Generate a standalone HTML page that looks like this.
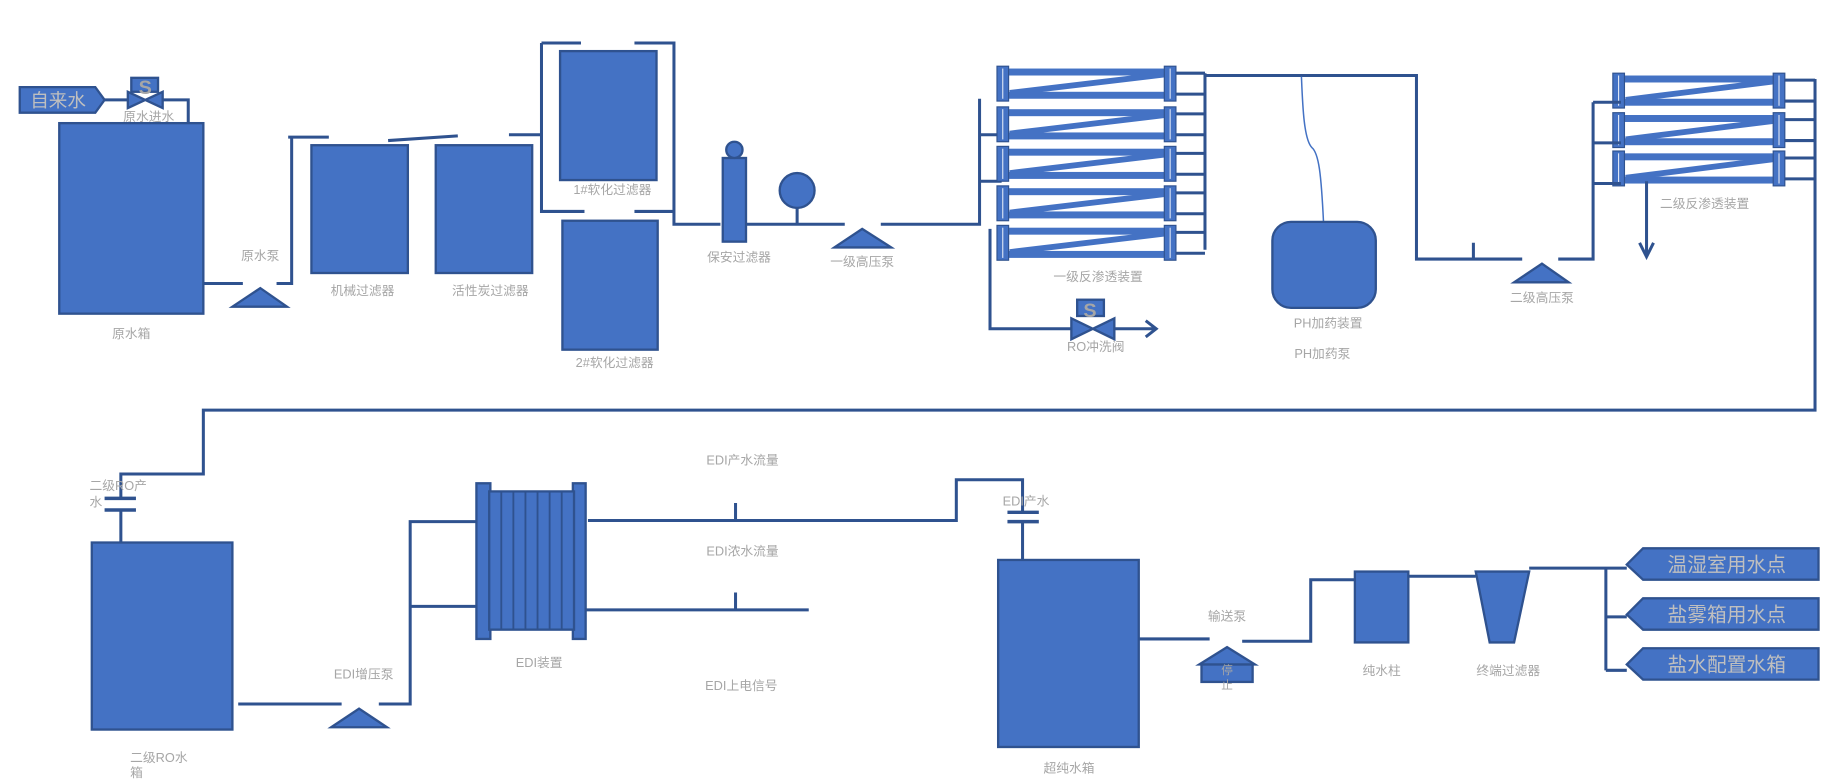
<!DOCTYPE html>
<html><head><meta charset="utf-8"><style>
html,body{margin:0;padding:0;background:#fff;}
svg{display:block;}
text{font-family:"Liberation Sans","Noto Sans CJK SC",sans-serif;fill:#A6A6A6;font-size:11px;text-anchor:middle;}
.p{stroke:#2F528F;stroke-width:2.6;fill:none;}
.b{fill:#4472C4;stroke:#2F528F;stroke-width:2;}
</style></head><body>
<svg id="svg" width="1822" height="783" viewBox="0 0 1568 674" preserveAspectRatio="none">
<g>
<polygon class="b" points="17,75 82,75 90,86 82,97 17,97"/>
<text x="50" y="92" style="font-size:16px;fill:#BFBFBF">自来水</text>
</g>
<path class="p" d="M90,86 H110 M140,86 H162 V106"/>
<g>
<polygon class="b" points="110,79 110,93 140,79 140,93"/>
<rect class="b" x="113" y="67" width="23" height="12"/>
<text x="125" y="81" style="font-size:17px;fill:#A6A6A6;font-weight:bold">S</text>
</g>
<text x="128" y="104">原水进水</text>
<rect class="b" x="51" y="106" width="124" height="164"/>
<text x="113" y="291">原水箱</text>
<path class="p" d="M175,244 H209 M238,244 H251 V118 M248,118 H283 M334,121 L394,117 M438,116 H466 M466,37 V182 H503 M466,37 H500 M546,37 H580 V193 H620 M546,182 H580"/>
<polygon class="b" points="200,264 224,248 247,264"/>
<text x="224" y="224">原水泵</text>
<rect class="b" x="268" y="125" width="83" height="110"/>
<text x="312" y="254">机械过滤器</text>
<rect class="b" x="375" y="125" width="83" height="110"/>
<text x="422" y="254">活性炭过滤器</text>
<rect class="b" x="482" y="44" width="83" height="111"/>
<text x="527" y="167">1#软化过滤器</text>
<rect class="b" x="484" y="190" width="82" height="111"/>
<text x="529" y="316">2#软化过滤器</text>
<g>
<rect class="b" x="622" y="136" width="20" height="72"/>
<ellipse class="b" cx="632" cy="129" rx="7" ry="7"/>
</g>
<text x="636" y="225">保安过滤器</text>
<ellipse class="b" cx="686" cy="164" rx="15" ry="15"/>
<path class="p" d="M642,193 H727 M686,179 V193 M758,193 H843 V85 M843,116 H862 M843,156 H862 M852,197 V283 H922 M959,283 H994 M986,276 L995,283 L986,290"/>
<polygon class="b" points="718,213 742,197 767,213"/>
<text x="742" y="229">一级高压泵</text>
<g id="ro1"></g>
<text x="945" y="242">一级反渗透装置</text>
<g>
<polygon class="b" points="922,274 922,292 959,274 959,292"/>
<rect class="b" x="927" y="258" width="23" height="14"/>
<text x="938" y="273" style="font-size:17px;fill:#A6A6A6;font-weight:bold">S</text>
</g>
<text x="943" y="302">RO冲洗阀</text>
<path class="p" d="M1037,65 H1219 V223 H1310 M1268,209 V223 M1341,223 H1371 V88"/>
<path d="M1139,191 C1137,150 1135,132 1129,127 C1122,120 1121,90 1120,66" stroke="#4472C4" stroke-width="1.3" fill="none"/>
<rect class="b" x="1095" y="191" width="89" height="74" rx="16"/>
<text x="1143" y="282">PH加药装置</text>
<text x="1138" y="308">PH加药泵</text>
<polygon class="b" points="1303,243 1327,227 1350,243"/>
<text x="1327" y="260">二级高压泵</text>
<g id="ro2"></g>
<path class="p" d="M1417,156 V220 M1411,209 L1417,221 L1423,209"/>
<text x="1467" y="179">二级反渗透装置</text>
<path class="p" d="M1562,68 V353 H175 V408 H104 V428 M104,439 V467"/>
<path d="M90,429 H117 M90,439 H117" stroke="#2F528F" stroke-width="3"/>
<text x="77" y="422" style="text-anchor:start">二级RO产</text>
<text x="77" y="436" style="text-anchor:start">水</text>
<rect class="b" x="79" y="467" width="121" height="161"/>
<text x="112" y="656" style="text-anchor:start">二级RO水</text>
<text x="112" y="669" style="text-anchor:start">箱</text>
<path class="p" d="M205,606 H294 M326,606 H353 V449 H410 M353,522 H410"/>
<polygon class="b" points="285,626 309,610 333,626"/>
<text x="313" y="584">EDI增压泵</text>
<g id="edi">
<rect class="b" x="410" y="416" width="12" height="134"/>
<rect class="b" x="493" y="416" width="11" height="134"/>
<rect class="b" x="421" y="423" width="73" height="119"/>
</g>
<text x="464" y="574">EDI装置</text>
<path class="p" d="M506,448 H823 V413 H880 V441 M880,449 V482 M633,433 V448 M503,525 H696 M633,510 V525"/>
<path d="M867,441 H894 M867,449 H894" stroke="#2F528F" stroke-width="3"/>
<text x="639" y="400">EDI产水流量</text>
<text x="639" y="478">EDI浓水流量</text>
<text x="638" y="594">EDI上电信号</text>
<text x="883" y="435">EDI产水</text>
<rect class="b" x="859" y="482" width="121" height="161"/>
<text x="920" y="665">超纯水箱</text>
<path class="p" d="M980,550 H1041 M1069,552 H1128 V499 H1166 M1212,496 H1270 M1316,489 H1382 V577 M1382,489 H1400 M1382,531 H1400 M1382,577 H1400"/>
<g>
<polygon class="b" points="1032,572 1056,557 1080,572"/>
<rect class="b" x="1034" y="572" width="44" height="15"/>
<text x="1056" y="580" style="font-size:10px;fill:#A6A6A6">停</text>
<text x="1056" y="593" style="font-size:10px;fill:#A6A6A6">止</text>
</g>
<text x="1056" y="534">输送泵</text>
<rect class="b" x="1166" y="492" width="46" height="61"/>
<text x="1189" y="581">纯水柱</text>
<polygon class="b" points="1270,492 1316,492 1303,553 1282,553"/>
<text x="1298" y="581">终端过滤器</text>
<g id="tags"></g>
<script>
var svg=document.getElementById('svg');var NS='http://www.w3.org/2000/svg';
function mk(p,t,a){var e=document.createElementNS(NS,t);for(var k in a)e.setAttribute(k,a[k]);p.appendChild(e);return e;}
function membrane(g,x0,x1,cy,mx){
  var m=mk(g,'g',{});
  
  
  mk(m,'rect',{x:x0+8,y:cy-10,width:x1-x0-20,height:20,fill:'none',stroke:'#4472C4','stroke-width':6});
  mk(m,'line',{x1:x0+12,y1:cy+8,x2:x1-14,y2:cy-8,stroke:'#4472C4','stroke-width':5});
  mk(m,'rect',{x:x0+1,y:cy-15,width:10,height:30,fill:'#4472C4',stroke:'#2F528F','stroke-width':1});
  mk(m,'rect',{x:x1-15,y:cy-15,width:10,height:30,fill:'#4472C4',stroke:'#2F528F','stroke-width':1});
  mk(m,'line',{x1:x0+6,y1:cy-13,x2:x0+6,y2:cy+13,stroke:'#fff','stroke-width':0.8});
  mk(m,'line',{x1:x1-10,y1:cy-13,x2:x1-10,y2:cy+13,stroke:'#fff','stroke-width':0.8});
  mk(m,'path',{d:'M'+(x1-5)+','+(cy-9)+' H'+mx+' M'+(x1-5)+','+(cy+9)+' H'+mx,stroke:'#2F528F','stroke-width':2.6,fill:'none'});
}
var ro1Rows=[72,107,141,175,209];
var ro2Rows=[78,112,145];
var g1=document.getElementById('ro1');
ro1Rows.forEach(function(c){membrane(g1,857,1017,c,1037);});
mk(g1,'path',{d:'M1037,63 V215',stroke:'#2F528F','stroke-width':2.6,fill:'none'});
var g2=document.getElementById('ro2');
ro2Rows.forEach(function(c){membrane(g2,1387,1541,c,1562);});
mk(g2,'path',{d:'M1371,88 H1395 M1371,123 H1395 M1371,158 H1395',stroke:'#2F528F','stroke-width':2.6,fill:'none'});
var edi=document.getElementById('edi');
for(var i=1;i<7;i++){var l=mk(edi,'line',{x1:421+i*10.4,y1:423,x2:421+i*10.4,y2:542,stroke:'#2F528F','stroke-width':1.6});

}
var tagNames=['温湿室用水点','盐雾箱用水点','盐水配置水箱'];
var tagY=[486,529,572];
var tg=document.getElementById('tags');
tagNames.forEach(function(n,i){var y=tagY[i];
  var g=mk(tg,'g',{});
  
  
  mk(g,'polygon',{points:'1400,'+y+' 1414,'+(y-14)+' 1565,'+(y-14)+' 1565,'+(y+13)+' 1414,'+(y+13),fill:'#4472C4',stroke:'#2F528F','stroke-width':2});
  var t=mk(g,'text',{x:1486,y:y+6,style:'font-size:17px;fill:#BFBFBF'});t.textContent=n;
});
</script>
</svg>
</body></html>
